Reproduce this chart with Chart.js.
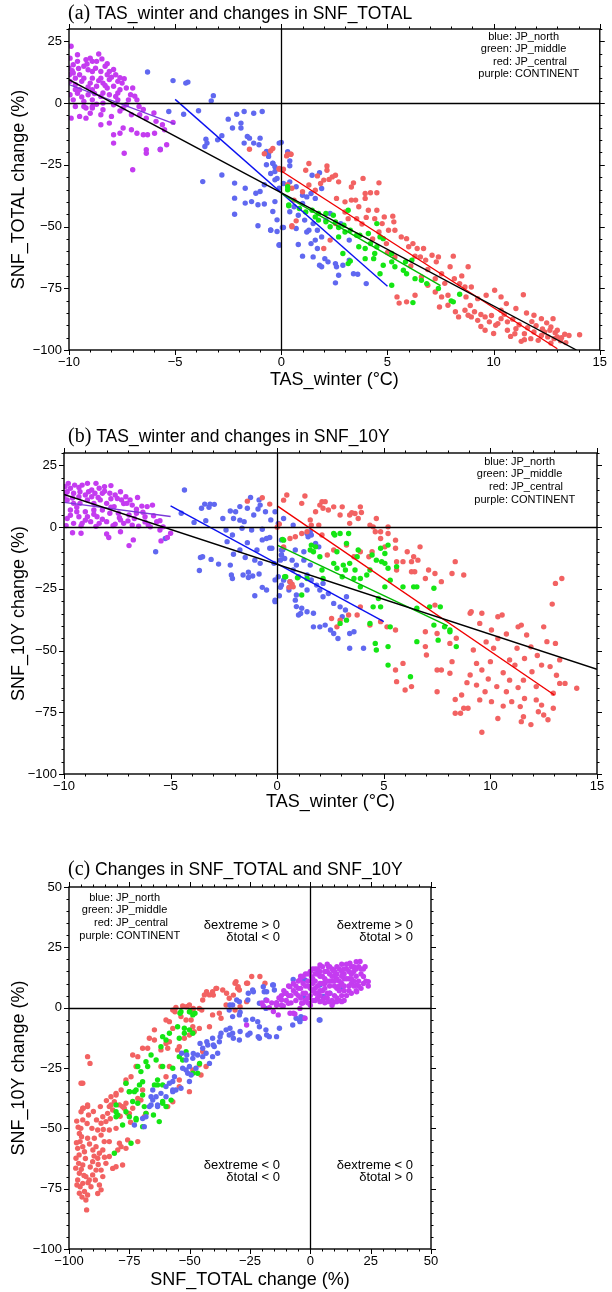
<!DOCTYPE html>
<html>
<head>
<meta charset="utf-8">
<script src="https://cdn.jsdelivr.net/npm/chart.js@4/dist/chart.umd.min.js"></script>
<style>
  body { margin: 0; background: #fff; width: 612px; height: 1292px; position: relative; overflow: hidden; }
  canvas { position: absolute; left: 0; }
</style>
</head>
<body>
<canvas id="panelA" width="612" height="400" style="top:0px;width:612px;height:400px"></canvas>
<canvas id="panelB" width="612" height="410" style="top:410px;width:612px;height:410px"></canvas>
<canvas id="panelC" width="612" height="452" style="top:840px;width:612px;height:452px"></canvas>
<script>
// tick labels
const xTicksAB = [-10, -5, 0, 5, 10, 15]
const yTicksAB = [-100, -75, -50, -25, 0, 25]
const xTicksC = [-100, -75, -50, -25, 0, 25, 50]
const yTicksC = [-100, -75, -50, -25, 0, 25, 50]
const regionNames = [['blue:', 'JP_north'], ['green:', 'JP_middle'], ['red:', 'JP_central'], ['purple:', 'CONTINENT']]

// (a) TAS_winter vs SNF_TOTAL change
const aPurple = [[-9.9,23],[-9.6,19.6],[-9.2,17.6],[-8.6,19.9],[-8.9,16.9],[-9.1,13.5],[-10,14.2],[-9.8,12.2],[-9.5,11.5],[-8.5,12.8],[-8.2,11.5],[-8.1,9.5],[-7.7,8.8],[-7.3,6.1],[-7.6,5.4],[-8.4,8.1],[-8.7,6.8],[-9.0,8.1],[-9.4,8.8],[-9.7,7.4],[-9.95,8.8],[-9.95,3.4],[-9.6,4.0],[-9.1,3.4],[-8.5,2.7],[-8.1,3.4],[-7.7,1.3],[-7.2,1.3],[-6.8,1.3],[-7.3,-0.7],[-7.9,-0.7],[-8.4,0],[-8.9,-1.4],[-9.2,-2],[-9.7,-1.4],[-9.9,-6.1],[-9.5,-5.4],[-9.2,-6.1],[-8.9,-2],[-8.4,-2.7],[-8.0,-5.4],[-7.45,-2],[-7.06,-4.7],[-6.67,-4.7],[-6.36,-6.1],[-5.9,-7.4],[-5.6,-8.8],[-5.1,-7.8],[-8.5,-8.8],[-8.1,-8.1],[-7.9,-12.8],[-7.6,-12.2],[-7.45,-10.1],[-7.06,-10.8],[-6.8,-12.2],[-6.5,-12.8],[-6.3,-12.8],[-5.97,-12.2],[-5.5,-10.8],[-5.4,-16.9],[-5.7,-18.9],[-6.36,-18.9],[-6.36,-20.3],[-7.4,-20.3],[-7.9,-16.2],[-7.0,-27],[-9.0,-4.1],[-8.5,-4.7],[-9.8,15.5],[-9.3,14.9],[-8.9,12.8],[-8.3,14.9],[-8.1,12.8],[-9.5,5.4],[-8.9,5.4],[-8.2,6.1],[-7.9,6.8],[-8.5,10.1],[-8.9,10.1],[-9.3,10.1],[-9.7,10.1],[-9.98,11.5],[-7.8,11.5],[-7.5,8.1],[-7.1,3.4],[-6.7,-1.4],[-9.8,1.3],[-9.3,0.7],[-8.9,1.3],[-7.8,2.7],[-8.4,4.1],[-8.7,16.9],[-9.6,16.9],[-9.95,18.2],[-9.0,18.2],[-9.7,5.5],[-9.4,2.5],[-9.1,6.5],[-8.8,3.9],[-8.6,9.1],[-8.3,7.1],[-8.0,10.5],[-7.7,4.1],[-7.4,9.9],[-7.0,6.1],[-6.9,2.8],[-9.85,13.1],[-9.55,14.0],[-9.15,15.8],[-8.75,14.1],[-8.45,17.9],[-8.2,15.9],[-7.9,13.6],[-7.6,10.3],[-9.3,-1.4],[-8.7,-0.5],[-7.6,-3.2],[-6.5,-2.6],[-6.0,-4.0]]
const aBlue = [[-6.3,12.6],[-5.1,9.1],[-4.5,8.1],[-4.4,8.5],[-3.2,3.0],[-3.3,0.9],[-3.9,-3.1],[-4.6,-4.5],[-5.3,-3.4],[-5.7,-18.7],[-3.55,-14.6],[-3.5,-16.2],[-3.6,-17.6],[-2.8,-13.2],[-3.0,-14.9],[-2.5,-6.5],[-2.1,-4.5],[-1.75,-3.4],[-1.9,-8.1],[-2.3,-10.1],[-1.9,-10.1],[-1.6,-13.5],[-1.5,-14.2],[-1.75,-16.2],[-1.3,-4.1],[-0.9,-3.4],[-1.0,-14.2],[-1.05,-16.9],[-1.3,-16.2],[-0.7,-19.6],[-0.6,-21.6],[-0.7,-25],[-0.4,-24.3],[-0.1,-16.2],[-0.3,-27.7],[-0.8,-33.1],[-1.0,-35.8],[-1.2,-36.5],[-1.7,-34.5],[-2.2,-32.4],[-2.2,-38.5],[-1.7,-40.5],[-1.4,-39.9],[-1.1,-41.2],[-0.8,-40.9],[-2.2,-45],[-3.7,-31.8],[-2.8,-29.1],[-1.1,-49.7],[-0.5,-51.4],[-0.2,-52],[-0.1,-57.4],[0.05,-50.4],[-0.2,-47.3],[-0.4,-43.9],[-0.3,-39.9],[-0.3,-31.1],[-0.1,-34.5],[0,-15.9],[0.3,-19.7],[0.4,-23.4],[0.4,-25.4],[-0.4,-24.5],[-0.5,-28.5],[-0.2,-30.5],[0.1,-32.6],[0.4,-31.9],[0.7,-33.9],[1.0,-37.3],[1.2,-38],[1.4,-36.6],[1.45,-29.2],[1.8,-28.2],[1.9,-34.6],[1.6,-38.6],[0.4,-44],[0.8,-45.4],[1.1,-47.4],[0.7,-50.8],[0.1,-50.4],[-0.5,-51.5],[-0.1,-57.6],[1.3,-51.5],[1.6,-55.5],[1.7,-58.9],[1.4,-56.9],[0.8,-57.3],[1.0,-62],[1.5,-62.3],[1.8,-65.7],[1.9,-66.3],[2.05,-63],[2.2,-64.3],[2.55,-65],[2.6,-66.3],[2.7,-69.7],[2.55,-72.8],[2.9,-65.7],[3.2,-63.6],[3.4,-69.1],[3.6,-69.3],[4.0,-73.1],[2.3,-44.7],[2.1,-47.4],[1.5,-48.8],[1.2,-52.2],[1.7,-51.5],[1.9,-54.2],[1.0,-40.7],[0.6,-42],[2.8,-48.8],[3.2,-55.5],[-0.6,-20.4],[-0.3,-25.8]]
const aRed = [[-1.5,-18.7],[-0.8,-20.5],[-0.5,-19.3],[0.25,-21.4],[0.45,-20.7],[-0.1,-26.8],[0.1,-26.8],[0.3,-33.1],[0.5,-34.5],[0.7,-47.7],[0.5,-49.7],[-0.4,-18.4],[0.3,-20.7],[0.45,-20.7],[-0.1,-26.5],[0.05,-27.2],[1.3,-24.5],[1.15,-27.2],[2.15,-25.5],[2.15,-27.2],[2.4,-29.9],[2.55,-29.2],[2.7,-31.9],[2.25,-30.9],[1.85,-32.6],[2.0,-31.2],[3.4,-32.3],[3.85,-30.5],[4.6,-32.3],[4.5,-36.3],[4.2,-36.3],[3.95,-36.6],[3.95,-38.6],[3.3,-39.3],[3.5,-39.3],[3.0,-40],[2.6,-38.6],[3.65,-42],[4.1,-43.4],[4.5,-43.4],[4.0,-46.3],[4.4,-46.8],[4.85,-46.1],[5.25,-45.8],[4.75,-48.8],[5.3,-48.1],[5.05,-51.5],[5.35,-51.5],[5.65,-54.2],[5.9,-54.9],[6.2,-56.9],[6.4,-58.9],[6.7,-58.9],[6.0,-58.2],[6.3,-62],[6.55,-62.3],[6.8,-63.6],[7.1,-61.6],[7.4,-62.3],[7.3,-64.3],[7.95,-66.3],[8.1,-62],[8.8,-66.3],[8.15,-71.1],[8.4,-73.1],[8.65,-74.5],[8.7,-78.5],[7.85,-77.8],[7.55,-78.5],[7.45,-82.6],[6.3,-77.8],[5.9,-80.5],[5.55,-81],[5.45,-78.5],[6.6,-70.4],[7.25,-71.1],[6.9,-67.4],[7.55,-69.1],[8.95,-74.5],[9.25,-79.2],[9.65,-77.8],[10.05,-75.8],[10.35,-78.5],[10.6,-81.2],[10.35,-83.9],[11.05,-83.2],[11.4,-77.6],[11.55,-85],[11.9,-85.9],[12.25,-87.3],[12.8,-87.3],[12.7,-90.7],[13.0,-92],[13.35,-93.6],[14.05,-93.8],[13.55,-94.1],[13.0,-94.7],[12.55,-94.7],[12.25,-94.1],[11.9,-92.7],[11.75,-95.4],[11.45,-95.8],[11.45,-93.4],[11.05,-91.4],[10.65,-88.6],[10.35,-87.3],[10.2,-89.3],[9.8,-88.6],[9.6,-86.6],[9.25,-88],[8.95,-86.6],[8.65,-83.9],[8.35,-86.6],[8.8,-85.9],[9.6,-92],[10.65,-92],[11.0,-93.4],[12.4,-92.7],[12.85,-95.4],[13.15,-96.3],[12.65,-92],[12.1,-96.1],[7.85,-81.9],[7.25,-76.5],[6.9,-73.8],[5.35,-62.3],[4.95,-56.9],[4.6,-52.2],[3.0,-44.1],[2.55,-48.8],[2.3,-55.5],[2.0,-58.9],[1.0,-35.9],[0.6,-39.3],[0.5,-50.1],[1.3,-33.2],[1.6,-35.3],[3.15,-46.8],[3.55,-46.8],[9.1,-84.5],[9.4,-85.6],[9.9,-86],[10.1,-90],[10.5,-85.5],[10.9,-87.5],[11.2,-89.8],[11.6,-91],[11.8,-88.5],[12.0,-90.2],[12.3,-91.5],[12.5,-89],[12.9,-93],[13.2,-95],[13.4,-97],[12.7,-97.2],[11.3,-96.5],[10.8,-94.5],[10.0,-93.3],[9.4,-90.5],[8.9,-82],[8.2,-84.5],[7.7,-73],[8.5,-70],[6.1,-66],[5.0,-60.5],[4.3,-55],[3.8,-49],[3.3,-34],[1.7,-29.5]]
const aGreen = [[0.3,-33.9],[0.35,-41.3],[0.85,-42.7],[1.15,-44.1],[1.45,-43.4],[1.75,-44.7],[2.1,-44.7],[1.6,-46.1],[1.75,-47.4],[2.1,-48.1],[2.3,-50.1],[2.55,-48.1],[2.7,-50.4],[2.95,-49.5],[3.0,-52.2],[3.25,-51.5],[3.55,-53.5],[3.7,-53.5],[4.1,-52.8],[4.5,-48.8],[4.65,-54.2],[4.8,-54.9],[3.65,-58.2],[3.95,-58.9],[4.2,-56.9],[4.4,-60.9],[3.95,-63],[4.35,-63],[4.8,-65.7],[5.2,-60.9],[5.2,-64.3],[5.35,-66.3],[5.75,-67.7],[5.9,-69.1],[6.3,-71.1],[6.6,-71.8],[6.85,-73.1],[6.15,-63.6],[5.85,-64.3],[4.65,-69.1],[5.2,-73.8],[7.4,-75.1],[6.2,-80.8],[8.0,-80.1],[8.1,-80.5],[8.4,-77.4],[2.9,-60.9],[3.15,-65],[3.25,-64],[2.7,-54.2],[2.45,-45.4],[3.15,-43.4],[4.5,-58.2],[0.3,-35.1],[0.35,-41.6]]
const aLineBlack = [[-10, 9.5], [13.9, -100]]
const aLineBlue = [[-5, 1.5], [5, -74.2]]
const aLineGreen = [[0, -36.6], [7.5, -73.9]]
const aLineRed = [[0, -27.5], [13, -99.5]]
const aLinePurple = [[-10, 7.5], [-5, -8.5]]

// (b) TAS_winter vs SNF_10Y change
const bPurple = [[-9.8,17.7],[-9.5,17],[-9.15,17],[-8.9,17.7],[-8.5,17.7],[-8.1,16.4],[-7.8,16.8],[-9.85,14.3],[-9.55,13.7],[-9.25,14.3],[-8.85,14.3],[-8.55,13.7],[-8.2,13.7],[-7.85,13.7],[-7.5,11.6],[-7.3,11],[-7.05,9.6],[-6.8,8.9],[-6.55,12],[-6.35,8.5],[-6.1,8.3],[-5.85,8.9],[-9.85,11],[-9.55,9.6],[-9.25,9.6],[-8.9,11],[-8.6,9.6],[-8.3,11],[-8,9.6],[-7.65,8.3],[-9.7,6.9],[-9.4,6.2],[-9,6.2],[-8.6,6.9],[-8.2,6.9],[-7.85,5.6],[-7.45,5.6],[-6.95,4.9],[-9.85,3.5],[-9.55,1.5],[-9.15,1.5],[-8.75,2.2],[-8.35,1.5],[-8,2.2],[-7.6,1.2],[-7.2,1.5],[-6.8,0.8],[-6.5,0.4],[-6.05,0.8],[-5.65,2.2],[-5.5,2.6],[-5.95,0.1],[-5.35,0.1],[-5.5,-1.2],[-9.6,-2.3],[-9.2,-2.5],[-8,-2.8],[-7.9,-4.2],[-7.35,-1.9],[-6.95,-7.5],[-6.75,-5.2],[-5.45,-5.6],[-5.15,-4.2],[-5,-2.5],[-10,12.3],[-9.95,16.4],[-9.7,15.7],[-9.3,12.3],[-8.7,12.3],[-8.35,15.7],[-7.35,14.3],[-7.1,12.3],[-6.6,5.6],[-6.2,4.2],[-7.35,2.9],[-9.3,4.2],[-8.9,4.2],[-8.45,4.2],[-9.9,14],[-9.6,11.8],[-9.3,16],[-9.0,13],[-8.7,15],[-8.4,12],[-8.1,14.5],[-7.8,11.5],[-7.6,13],[-7.2,9.5],[-6.9,11],[-6.6,7.2],[-6.3,6],[-9.7,4.8],[-9.4,8],[-9.0,2.8],[-8.6,5.2],[-8.2,3.2],[-7.8,8],[-7.4,3.8],[-7,2.5],[-6.7,3.5],[-6.2,2.1],[-9.9,0.6],[-9.2,0.5],[-8.5,0.3],[-7.7,0.6],[-5.8,4.6]]
const bBlue = [[-4.35,15],[-4.5,5.6],[-3.9,1.9],[-3.55,7.6],[-3.4,9.3],[-3.2,8],[-3.15,9.3],[-2.95,9.2],[-3.35,2.6],[-2.55,3.5],[-2.2,6.5],[-1.95,6.2],[-1.75,8.3],[-2.05,3.5],[-1.75,2.8],[-1.55,2.2],[-1.25,12],[-1.4,7.6],[-1.1,4.9],[-0.85,11],[-0.8,8.9],[-0.9,7.3],[-0.55,6.2],[-0.3,2.9],[-1.2,-1.2],[-1.65,-0.5],[-2.1,-3.2],[-2.4,-1.2],[-0.7,-0.9],[-0.5,-4.6],[-0.35,-4.2],[-0.35,-8.6],[-0.7,-5.2],[-0.95,-9.3],[-1.4,-6.3],[-1.75,-9.3],[-1.5,-12.3],[-1.05,-13.4],[-0.8,-14.7],[-2.05,-11],[-2.2,-15.4],[-2.75,-15],[-3.1,-13.1],[-3.6,-12.3],[-3.5,-12],[-3.65,-17.6],[-2.35,-5.9],[-2.15,-19.4],[-2.1,-20.8],[-1.6,-19.4],[-1.35,-18.3],[-1.15,-19.8],[-0.85,-19],[-1.35,-20.4],[-1.05,-27.8],[-0.7,-24.4],[-0.5,-25.5],[-0.1,-30.2],[0.1,-27.8],[0.15,-24.4],[-0.1,-21.4],[0.05,-20.1],[-0.15,-14.7],[0.15,-13.4],[0.2,-11.3],[0.25,-9.3],[0.2,-5.2],[-5.7,-10],[-5.25,-4.6],[0.6,-22.1],[0.9,-32.2],[1.0,-35.6],[-0.25,-8.6],[0.3,-8.6],[0.2,-11.3],[0.35,-12.7],[0.7,-13.4],[0.9,-15.4],[1.25,-13.4],[1.55,-15.4],[1.4,-19.4],[1.6,-21.4],[1.85,-23.5],[2,-25.5],[2.15,-28.2],[2.4,-26.9],[2.65,-30.9],[2.95,-32.3],[3.2,-33.6],[3.25,-28.2],[3.05,-36.3],[3.4,-43.1],[3.6,-42.4],[4.05,-49.1],[3.4,-49.1],[2.85,-45.1],[2.65,-43.1],[2.5,-41.7],[2.25,-39.7],[2,-40.4],[1.7,-40.4],[1.7,-34.9],[1.4,-34.3],[1.1,-35],[1.15,-32.9],[0.85,-29.6],[0.9,-27.5],[0.55,-25.5],[0.2,-23.5],[0.3,-21.5],[-0.1,-29.6],[1.15,-23.5],[1.4,-25.5],[2.15,-22.8],[1.55,-1.9],[1.4,-2.6],[1.45,-3.9],[1.6,-3.2],[1.8,-6.6],[1.95,-8],[0.3,3.5],[0.05,1.5],[0.75,0.8],[-0.1,6.2],[0.2,-9.3],[0.85,-9.3],[1.25,-10],[0.75,-17.4],[1,-20.1],[0.6,-24.2]]
const bRed = [[-1.4,10.5],[-0.7,11.9],[-0.35,9.3],[0.1,1.2],[0,-0.1],[0.7,-23.1],[0.55,-24.4],[0.3,-8],[0.45,13],[0.3,10.9],[1.15,9.6],[1.3,12.6],[1.8,6.2],[2,8.9],[2.1,10.3],[2.25,10.3],[2.15,7.6],[2.4,6.9],[2.65,8.2],[3.05,8.2],[2.95,4.9],[3.4,4.9],[3.5,5.8],[3.65,5.5],[3.9,8.2],[3.95,5.9],[3.8,3.5],[3.4,1.5],[4.35,0.8],[4.5,0.1],[4.65,3.5],[4.6,-1.9],[4.85,-1.9],[5.2,0.1],[5.2,-2.6],[5.55,-5.3],[5.55,-8.6],[5.05,-8],[4.85,-4.6],[4.45,-10],[4.3,-12],[3.9,-10],[3.6,-12],[3.25,-7.3],[2.65,-9.3],[2.35,-11.3],[2.1,-3.2],[1.6,0.8],[1.4,-1.9],[1.15,-2.6],[0.85,-3.9],[0.6,-4.6],[0.75,-24.2],[0.6,-22.1],[5.6,-14],[5.6,-17.4],[5.9,-14],[6.3,-14],[6.3,-18.1],[6.45,-18.1],[6.1,-10],[6.4,-12],[6.7,-8],[6.6,-13.4],[6.95,-20.8],[7.1,-17.4],[7.4,-18.8],[7.4,-31.6],[7.7,-22.1],[8.2,-18.8],[8.35,-14],[8.75,-19.4],[9.05,-34.9],[9.1,-34.3],[9.6,-34.9],[10.35,-36.3],[10.55,-35.6],[9.5,-39],[10.05,-41.7],[10.35,-45.1],[10.75,-43.3],[11.3,-40.4],[11.45,-39.7],[11.7,-43.7],[12.5,-40.4],[12.65,-46.4],[13.05,-47.1],[13.05,-22.8],[13.35,-20.8],[12.9,-31.2],[13.25,-53.8],[13.5,-63.3],[14.05,-65.3],[13.25,-63.3],[12.95,-67.3],[12.4,-55.9],[12.15,-64.6],[11.6,-53.2],[11.25,-49.1],[10.9,-53.8],[10.15,-49.1],[10,-54.5],[9.2,-49.8],[9.35,-55.2],[9.6,-57.9],[9.05,-59.9],[9.35,-64],[9.75,-66.7],[10.3,-64.6],[10.75,-66.7],[11.15,-55.9],[11.95,-58.6],[11.55,-62],[11.6,-69.4],[11.4,-72.7],[11.55,-76.8],[11.45,-78.8],[12.15,-70],[12.4,-72.1],[12.5,-76.1],[12.25,-74.8],[12.95,-73.4],[11,-70.7],[10.35,-77.5],[10.05,-70.7],[8.65,-68],[8.75,-73.4],[8.95,-73.4],[8.35,-75.4],[8.6,-75.4],[8.35,-69.8],[9.6,-83.1],[8.2,-54.5],[8.1,-59.2],[7.7,-57.9],[7.5,-57.9],[7.5,-66.7],[7,-51.8],[6.95,-48.4],[6.95,-42.4],[8.1,-47.1],[7.5,-43.1],[5.9,-55.2],[5.55,-57.9],[6,-66],[6.3,-64.6],[5.6,-62.6],[5.15,-40.4],[5.55,-41.7],[3.75,-35.6],[2.55,-37],[2.8,-40.4],[2.95,-37.7],[3.35,-35.6],[4.35,-39.7],[4.85,-38.3],[3.9,-32.3],[1.95,0.8],[1.55,2.9],[11.9,-48.5],[12.2,-52],[12.8,-56.5],[13.1,-60],[10.6,-59],[10.9,-62],[11.3,-65],[9.9,-61.5],[8.9,-63],[9.5,-70],[10.6,-72.5],[12.7,-78],[11.9,-80],[8.4,-45],[9.8,-46.5]]
const bGreen = [[0.3,-5.3],[0.35,-20.1],[1.15,-27.5],[1.4,-20.8],[1.55,-9.3],[1.6,-7.3],[1.8,-8],[1.7,-10],[2,-12],[2.1,-17.4],[2.15,-20.8],[2.65,-2.6],[2.7,-3.2],[2.95,-2.6],[3.35,-2.6],[2.8,-10],[2.65,-14.7],[2.8,-16.7],[3.1,-15.4],[3.2,-17.4],[3.05,-20.1],[3.25,-6.6],[3.4,-14.7],[3.65,-17.4],[3.8,-9.3],[3.75,-12],[3.9,-24.2],[4.2,-19.4],[4.35,-17.4],[4.45,-11.3],[4.65,-13.4],[4.85,-8.6],[4.9,-14],[5.05,-10.7],[5.2,-7.3],[5.05,-14.7],[5.2,-16.7],[5.6,-16],[5.3,-21.5],[5.05,-24.2],[4.5,-32.3],[4.75,-28.9],[4.85,-32.3],[4.35,-39],[3.25,-37.7],[2.95,-39],[5.3,-40.4],[5.2,-48.4],[4.6,-47.1],[4.65,-49.8],[5.2,-55.9],[6.25,-60.6],[5.9,-24.2],[6.4,-24.2],[6.55,-24.2],[6.55,-32.9],[7.35,-24.8],[7.15,-32.3],[6.55,-46.4],[7.65,-32.3],[7.85,-40.4],[8.1,-42.4],[8.1,-41.7],[8.4,-48.4],[7.55,-45.8],[7.35,-39.7],[3.9,-20.8],[3.6,-20.8],[0.25,-5],[0.4,-20.1],[0.95,-20.5]]
const bLineBlack = [[-10, 13.2], [15, -57.6]]
const bLineBlue = [[-5, 8.6], [5, -38.3]]
const bLineGreen = [[0, -7.3], [8, -40]]
const bLineRed = [[0, 8.6], [13, -68]]
const bLinePurple = [[-10, 10], [-5, 4.3]]

// (c) SNF_TOTAL change vs SNF_10Y change
const cPurple = [[0,5],[2,8],[4,10],[6,12],[8,9],[10,13],[12,11],[14,14],[16,12],[18,15],[20,17],[1,12],[3,14],[5,7],[7,6],[9,11],[11,8],[13,10],[15,16],[17,10],[19,13],[21,14],[-1,9],[-2,6],[-3,10],[-4,4],[-5,8],[-6,3],[-7,7],[-8,2],[-9,5],[-10,3],[-12,1],[-13,4],[-11,7],[-6,9],[-3,2],[0,1],[2,3],[4,5],[6,4],[8,6],[10,5],[12,7],[14,9],[16,7],[18,9],[3,16],[5,17],[7,15],[9,16],[11,17],[13,18],[15,18],[17,17],[19,19],[22,16],[23,11],[24,9],[12,3],[6,2],[1,16],[-2,14],[-4,13],[9,1],[14,3],[7,18],[20,11],[-7,-2.3],[-11.9,3.2],[-10.5,6],[-8.4,8.7],[-4.3,11.5],[0.5,12.8],[4,17.7],[7.5,17],[9.5,15.6],[16.4,18.4],[20.6,19.1],[22.7,17],[24,10.8],[22,12.9],[19.2,9.4],[19.2,6.6],[13,2.5],[9.5,2.1],[7.5,2.5],[-19.5,0.7],[-14,2.1],[-13.3,-3],[-8.4,-2.3],[-6.4,-2.6],[-4.3,-0.3],[-2.2,-4.4],[-26.4,-7.2],[-15.3,-1.6],[-11.2,0.7],[-9.1,1.8],[-3.6,1.8],[4,2.5],[10.9,2.5],[2,11],[5,13],[8,14],[11,12],[14,12],[17,14],[3,6],[-1,4],[1,7],[6,10],[10,9],[13,15],[1,3],[3,4],[5,3],[7,4],[9,3],[11,4],[13,5],[15,5],[17,6],[19,7],[21,8],[0,8],[2,6],[4,7],[6,8],[8,11],[10,11],[12,9],[14,7],[16,9],[18,11],[20,9],[22,10],[1,10],[3,9],[5,10],[7,11],[9,13],[11,14],[13,13],[15,12],[17,12],[19,16],[21,16],[2,14],[4,13],[6,15],[8,17],[10,15],[12,16],[14,16],[16,15],[18,17],[-1,11],[-2,9],[-3,6],[-4,8],[-5,5],[-1,2],[-2,3],[-6,6],[-8,5],[-10,6],[-9,9],[-7,10],[-5,11],[-3,13],[-1,14],[0,15],[2,16],[4,15],[-12,5],[-14,1],[-16,2],[-18,3],[-17,0],[-20,2]]
const cBlue = [[-15.6,9.4],[-14.9,7.3],[-19.1,6.6],[-23.9,7.3],[-18.4,3.2],[-21.1,1.8],[-18.4,-0.3],[-25.9,3.2],[-29.4,2.5],[-32.2,1.1],[-33.6,-1],[-32.2,-3.7],[-29.4,-3],[-26.7,-5.1],[-23.9,-4.8],[-21.8,-5.8],[-21.1,-7.9],[-18.4,-9.2],[-17,-12],[-12.8,-8.5],[-7.3,-7.2],[-4.5,-5.1],[-2.5,-4.4],[-3.9,-3.7],[-5.9,-4.4],[3.7,-5.1],[-21.1,-12.7],[-25.9,-11.3],[-29.4,-13.4],[-32.2,-10.6],[-34.9,-9.2],[-33.6,-11.3],[-37,-10.6],[-37.7,-14.1],[-40.5,-12.7],[-39.8,-16.1],[-42.5,-15.5],[-44.6,-16.8],[-43.2,-18.9],[-40.5,-20.3],[-38.4,-18.9],[-41.8,-23.1],[-44.6,-20.3],[-46.7,-19.6],[-48.7,-21],[-50.1,-24.4],[-51.5,-25.8],[-52.9,-25.1],[-50.8,-27.2],[-49.4,-27.9],[-51.5,-21.7],[-47.4,-25.1],[-56.3,-28.6],[-57,-30.6],[-59.8,-32.7],[-61.9,-35.5],[-63.9,-36.9],[-65.3,-38.3],[-63.3,-40.3],[-66.7,-41],[-59.8,-36.9],[-57,-34.8],[-55.7,-34.1],[-53.6,-33.4],[-68.1,-45.2],[-69.5,-45.9],[-65.3,-34.1],[-66,-40.3],[-63.3,-41],[-58.4,-31.3],[-57,-34.1],[-50.1,-30.6],[-72.9,-48.6],[-68.8,-49.3],[-66,-36.9],[-7.1,11.7],[-3.6,11.7],[-2.2,11.5],[3.3,15],[-19.5,8.7],[-18.1,6.6],[-15.3,9.4],[-23.6,6.6],[-25.7,6],[-30.5,3.2],[-29.1,-1.9],[-33.3,1.1],[-2.9,4.6],[8.1,6],[5.4,4.6],[13,8],[4,9.4],[4,-5.1],[-4.3,-5.8],[-2.9,-4.4],[-21.6,-12],[-18.1,-11.3],[-14,-12],[-25,-10.6],[-29.1,-9.9],[-31.9,-12.7],[-33.3,-8.5],[-37.4,-12],[-40.2,-15.5],[-42.9,-14.1],[-45.7,-14.8],[-48.5,-19],[-51.2,-19.6],[-53.3,-18.9]]
const cRed = [[-56.1,-1.7],[-51.3,0.4],[-48.5,-0.3],[-45,-1],[-43,6.6],[-40.2,5.2],[-38.8,8],[-34.7,6],[-31.9,5.2],[-31.2,10.1],[-29.9,8.7],[-26.4,10.1],[-24.3,12.9],[-20.9,12.9],[-18.8,10.1],[-29.1,0.4],[-31.2,-1],[-26.4,2.5],[-30.8,10.8],[-26,10.1],[-30.1,8],[-29.4,7.3],[-39.1,8],[-40.5,6.6],[-41.8,5.3],[-44.6,3.2],[-43.9,5.3],[-36.3,7.3],[-33.6,3.9],[-34.9,1.1],[-37.7,-2.3],[-37,-4.4],[-46,-0.3],[-48.7,-1],[-50.1,1.1],[-52.9,0.7],[-55.7,0.1],[-57,-1],[-59.8,-5.1],[-58.4,-5.8],[-57,-8.6],[-53.6,-3.7],[-51.5,-5.1],[-49.4,-5.1],[-48.7,-7.9],[-48.1,-10],[-50.1,-11.3],[-52.2,-12.7],[-54.3,-16.2],[-55,-17.5],[-58.4,-14.1],[-59.1,-16.8],[-61.9,-17.5],[-64.6,-9.2],[-66.7,-12.7],[-64.6,-13.4],[-67.4,-16.8],[-69.5,-16.8],[-71.5,-20.3],[-73.6,-19.6],[-72.2,-24.4],[-74.3,-28.6],[-76.4,-31.3],[-78.4,-34.1],[-80.5,-35.5],[-82.6,-36.9],[-81.2,-39],[-79.1,-40.3],[-77.1,-41.7],[-83.3,-41],[-75.7,-43.8],[-84,-43.8],[-92.3,-20.3],[-91.3,-23.1],[-94.3,-31.3],[-94.3,-41.7],[-92.3,-41],[-59.8,-14.8],[-61.9,-24.4],[-58.4,-24.4],[-59.8,-28.6],[-54.3,-30],[-54.3,-32.7],[-50.1,-34.8],[-57,-39],[-59.1,-41],[-46,-23.7],[-43.2,-24.4],[-45.3,-27.9],[-44.6,-18.2],[-48.7,-25.8],[-46,-8.6],[-41.8,-7.9],[-40.5,-3],[-95,-31.3],[-94.1,-41.7],[-95,-43.1],[-94.3,-46.5],[-95.7,-52.1],[-95.4,-55.5],[-94.3,-57.6],[-96.4,-58.3],[-93.6,-59.7],[-92.3,-54.1],[-97.1,-62.4],[-96,-64.5],[-94.3,-65.2],[-95.7,-68.6],[-96.4,-71.4],[-95.4,-74.2],[-94.3,-72.8],[-93.6,-76.2],[-92.3,-77.6],[-93,-79.7],[-92.7,-83.8],[-90.9,-74.2],[-91.6,-71.4],[-90.2,-69.3],[-88.8,-67.3],[-89.1,-71.4],[-87.4,-73.5],[-86.7,-75.5],[-88.1,-77],[-90.2,-63.8],[-88.1,-62.4],[-87.4,-60.3],[-88.8,-57.6],[-89.5,-54.1],[-88.1,-50.7],[-86.7,-47.9],[-86,-45.2],[-84.7,-47.2],[-86.7,-52.8],[-85.4,-55.5],[-86,-59],[-84.7,-64.5],[-86.7,-67.3],[-86,-70],[-81.9,-66.6],[-80.5,-65.9],[-77.8,-65.2],[-79.8,-59],[-78.4,-57.6],[-76.4,-58.3],[-79.1,-56.2],[-75.7,-54.8],[-71.5,-55.5],[-83.3,-55.5],[-83.3,-50.7],[-80.5,-50],[-81.9,-42.4],[-82.6,-40.3],[-80.5,-36.2],[-77.8,-41],[-76.4,-39.6],[-75,-43.8],[-73.6,-41.7],[-71.5,-37.6],[-70.2,-38.3],[-76.4,-30],[-69.5,-34.1],[-68.1,-43.8],[-68.8,-45.2],[-92.3,-40.3],[-93,-70],[-95.7,-76.9],[-83.3,-61.7],[-96.8,-47],[-96.2,-49.5],[-95.1,-50],[-94.8,-53.5],[-96.9,-56],[-95.8,-61],[-93.2,-62.5],[-94.9,-67],[-93.8,-69.5],[-97.2,-66.5],[-96.7,-73.5],[-94.6,-78.5],[-92.1,-72.5],[-91.2,-66],[-90.1,-59],[-91.5,-56.5],[-89.6,-61.5],[-87.9,-65],[-85.3,-62],[-85.8,-50.5],[-88.6,-46.5],[-90.5,-50],[-92.5,-48],[-91.9,-44.5],[-89.9,-43],[-87,-41],[-84.5,-38.5],[-82.9,-46],[-78.8,-45],[-74.5,-47.5]]
const cGreen = [[-53.6,-1.7],[-50.1,-1.7],[-48.7,-3],[-55,-7.9],[-52.2,-8.5],[-58.4,-10.6],[-54.3,-12.7],[-52.2,-10.6],[-50.1,-9.2],[-48.7,-10.6],[-61.2,-12],[-59.8,-13.4],[-61.9,-16.2],[-54.3,-20.3],[-52.9,-21.7],[-51.5,-18.2],[-46.7,-27.2],[-48.7,-27.2],[-45.9,-23.1],[-63.9,-21.7],[-66,-19.6],[-68.1,-22.4],[-67.4,-24.4],[-71.5,-24.4],[-70.2,-26.5],[-61.2,-24.4],[-57,-25.1],[-69.5,-30.7],[-70.8,-32],[-72.9,-34.8],[-75,-34.8],[-76.4,-31.3],[-71.5,-39.6],[-73.6,-38.9],[-64.6,-32],[-61.2,-32],[-63.3,-29.9],[-59.8,-41],[-61.2,-38.9],[-57.7,-38.3],[-80.5,-40.3],[-79.8,-44.5],[-76.4,-43.1],[-72.2,-45.9],[-68.1,-43.8],[-68.8,-41],[-75,-34.8],[-72.2,-34.1],[-69.5,-36.2],[-80.5,-43.1],[-80.5,-45.2],[-77.8,-48.6],[-75,-45.2],[-72.2,-46.5],[-74.3,-56.2],[-81.2,-60.3],[-69.5,-49.3],[-65,-44.5],[-62.6,-47.2],[-61.2,-39.6],[-63.3,-32],[-54,-2.3],[-49.9,-1.7],[-47.8,-2.3]]

const colors = {
  purple: '#c43cf0', blue: '#6068f0', red: '#f26262', green: '#14e614',
  linePurple: '#7b3ad8', lineBlue: '#0c12f0', lineRed: '#f00000', lineGreen: '#00b800', lineBlack: '#000000'
}
const sans = '"Liberation Sans", Arial, Helvetica, sans-serif'
const serif = '"Liberation Serif", "Times New Roman", serif'

const toXY = arr => arr.map(([x, y]) => ({ x, y }))
const fmt = v => (v < 0 ? '\u2212' + Math.abs(v) : String(v))

function pts(arr, color) {
  return { data: toXY(arr), pointRadius: 2.7, pointHoverRadius: 2.7, backgroundColor: color, borderWidth: 0, pointBorderWidth: 0 }
}
function line(arr, color) {
  return { data: toXY(arr), showLine: true, borderColor: color, borderWidth: 1.4, pointRadius: 0, fill: false }
}

const framePlugin = {
  id: 'frame',
  afterDatasetsDraw(chart, args, o) {
    const { ctx, chartArea: a, scales: { x, y } } = chart
    ctx.save()
    ctx.strokeStyle = '#000'
    ctx.lineWidth = 1.3
    const x0 = Math.round(x.getPixelForValue(0)) + 0.5
    const y0 = Math.round(y.getPixelForValue(0)) + 0.5
    ctx.beginPath()
    ctx.moveTo(x0, a.top); ctx.lineTo(x0, a.bottom)
    ctx.moveTo(a.left, y0); ctx.lineTo(a.right, y0)
    ctx.stroke()
    ctx.lineWidth = 1.4
    ctx.strokeRect(a.left, a.top, a.right - a.left, a.bottom - a.top)
    ctx.lineWidth = 1
    ctx.beginPath()
    for (let v = x.min; v <= x.max + 1e-9; v += o.xMinor) {
      const p = Math.round(x.getPixelForValue(v)) + 0.5
      const len = Math.abs(v % o.xMajor) < 1e-9 ? 5 : 2.5
      ctx.moveTo(p, a.bottom); ctx.lineTo(p, a.bottom + len)
      ctx.moveTo(p, a.top); ctx.lineTo(p, a.top - len)
    }
    for (let v = y.min; v <= y.max + 1e-9; v += o.yMinor) {
      const p = Math.round(y.getPixelForValue(v)) + 0.5
      const len = Math.abs(v % o.yMajor) < 1e-9 ? 5 : 2.5
      ctx.moveTo(a.left, p); ctx.lineTo(a.left - len, p)
      ctx.moveTo(a.right, p); ctx.lineTo(a.right + len, p)
    }
    ctx.stroke()
    ctx.restore()
  },
  afterDraw(chart, args, o) {
    const { ctx } = chart
    ctx.save()
    ctx.fillStyle = '#000'
    ctx.textBaseline = 'alphabetic'
    ctx.textAlign = 'left'
    ctx.font = '20px ' + serif
    ctx.fillText(o.letter, 68, o.titleY)
    const w = ctx.measureText(o.letter).width
    ctx.font = '17.5px ' + sans
    ctx.fillText(' ' + o.title, 68 + w, o.titleY)
    ctx.font = '11px ' + sans
    ctx.textBaseline = 'middle'
    regionNames.forEach(([c, n], i) => {
      const yy = o.legendY + i * 12.6
      ctx.textAlign = 'right'
      ctx.fillText(c, o.legendX, yy)
      ctx.textAlign = 'left'
      ctx.fillText(n, o.legendX + 3, yy)
    })
    if (o.notes) {
      ctx.font = '13px ' + sans
      ctx.textAlign = 'right'
      o.notes.forEach(nt => {
        ctx.fillText(nt.l1, nt.x, nt.y)
        ctx.fillText(nt.l2, nt.x, nt.y + 11.6)
      })
    }
    ctx.restore()
  }
}

function panel(id, o) {
  const tickFont = { family: sans, size: 13 }
  const titleFont = { family: sans, size: 18 }
  return new Chart(document.getElementById(id), {
    type: 'scatter',
    data: { datasets: o.datasets },
    options: {
      responsive: false,
      animation: false,
      devicePixelRatio: 1,
      layout: { padding: { left: 0, top: o.area.top, right: o.w - o.area.right, bottom: 0 } },
      plugins: { legend: { display: false }, tooltip: { enabled: false }, frame: o.frame },
      scales: {
        x: {
          type: 'linear', min: o.xMin, max: o.xMax,
          afterBuildTicks: s => { s.ticks = o.xTicks.map(v => ({ value: v })) },
          afterFit: s => { s.height = o.h - o.area.bottom },
          grid: { display: false, drawTicks: false }, border: { display: false },
          ticks: { font: tickFont, color: '#000', padding: 5, maxRotation: 0, autoSkip: false, callback: fmt },
          title: { display: true, text: o.xTitle, font: titleFont, color: '#000', padding: { top: 0, bottom: o.xTitlePad } }
        },
        y: {
          type: 'linear', min: o.yMin, max: o.yMax,
          afterBuildTicks: s => { s.ticks = o.yTicks.map(v => ({ value: v })) },
          afterFit: s => { s.width = o.area.left },
          grid: { display: false, drawTicks: false }, border: { display: false },
          ticks: { font: tickFont, color: '#000', padding: 7, autoSkip: false, callback: fmt },
          title: { display: true, text: o.yTitle, font: titleFont, color: '#000', padding: { top: 8, bottom: 0 } }
        }
      }
    },
    plugins: [framePlugin]
  })
}

panel('panelA', {
  w: 612, h: 400, area: { left: 69, right: 602, top: 29, bottom: 350 },
  xMin: -10, xMax: 15, yMin: -100, yMax: 30, xTicks: xTicksAB, yTicks: yTicksAB,
  xTitle: 'TAS_winter (\u00B0C)', yTitle: 'SNF_TOTAL change (%)', xTitlePad: 9,
  frame: { letter: '(a)', title: 'TAS_winter and changes in SNF_TOTAL', titleY: 18.5, legendX: 512, legendY: 36.5, xMinor: 1, xMajor: 5, yMinor: 5, yMajor: 25 },
  datasets: [
    line(aLineBlack, colors.lineBlack), line(aLineRed, colors.lineRed), line(aLineGreen, colors.lineGreen),
    line(aLineBlue, colors.lineBlue), line(aLinePurple, colors.linePurple),
    pts(aGreen, colors.green), pts(aPurple, colors.purple), pts(aRed, colors.red), pts(aBlue, colors.blue)
  ]
})

panel('panelB', {
  w: 612, h: 410, area: { left: 64, right: 597, top: 43, bottom: 364 },
  xMin: -10, xMax: 15, yMin: -100, yMax: 30, xTicks: xTicksAB, yTicks: yTicksAB,
  xTitle: 'TAS_winter (\u00B0C)', yTitle: 'SNF_10Y change (%)', xTitlePad: 7,
  frame: { letter: '(b)', title: 'TAS_winter and changes in SNF_10Y', titleY: 32, legendX: 508, legendY: 51.7, xMinor: 1, xMajor: 5, yMinor: 5, yMajor: 25 },
  datasets: [
    line(bLineBlack, colors.lineBlack), line(bLineRed, colors.lineRed), line(bLineGreen, colors.lineGreen),
    line(bLineBlue, colors.lineBlue), line(bLinePurple, colors.linePurple),
    pts(bGreen, colors.green), pts(bPurple, colors.purple), pts(bRed, colors.red), pts(bBlue, colors.blue)
  ]
})

panel('panelC', {
  w: 612, h: 452, area: { left: 69, right: 431, top: 47, bottom: 409 },
  xMin: -100, xMax: 50, yMin: -100, yMax: 50, xTicks: xTicksC, yTicks: yTicksC,
  xTitle: 'SNF_TOTAL change (%)', yTitle: 'SNF_10Y change (%)', xTitlePad: 1,
  frame: {
    letter: '(c)', title: 'Changes in SNF_TOTAL and SNF_10Y', titleY: 35, legendX: 113, legendY: 57.7,
    xMinor: 5, xMajor: 25, yMinor: 5, yMajor: 25,
    notes: [
      { l1: '\u03B4extreme > 0', l2: '\u03B4total < 0', x: 280, y: 85.7 },
      { l1: '\u03B4extreme > 0', l2: '\u03B4total > 0', x: 413, y: 85.7 },
      { l1: '\u03B4extreme < 0', l2: '\u03B4total < 0', x: 280, y: 325.7 },
      { l1: '\u03B4extreme < 0', l2: '\u03B4total > 0', x: 413, y: 325.7 }
    ]
  },
  datasets: [
    pts(cPurple, colors.purple), pts(cBlue, colors.blue), pts(cGreen, colors.green), pts(cRed, colors.red)
  ]
})
</script>
</body>
</html>
